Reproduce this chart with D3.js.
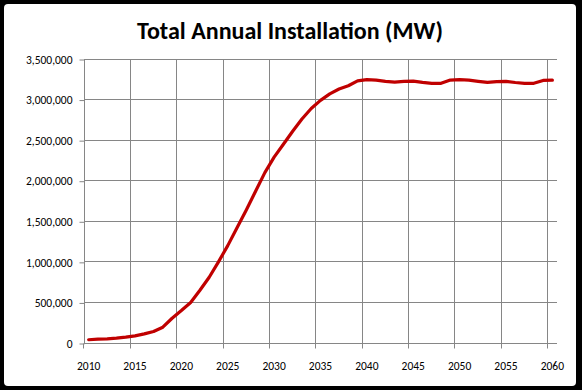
<!DOCTYPE html>
<html>
<head>
<meta charset="utf-8">
<script src="https://cdn.jsdelivr.net/npm/d3@7"></script>
<style>
  html, body { margin: 0; padding: 0; background: #fff; }
  svg { display: block; }
  text { font-family: Carlito, Lato, "Noto Sans", sans-serif; fill: #000; }
</style>
</head>
<body>
<svg id="chart" width="582" height="390"></svg>
<script>
const title = "Total Annual Installation (MW)";
const years = [2010,2011,2012,2013,2014,2015,2016,2017,2018,2019,
               2020,2021,2022,2023,2024,2025,2026,2027,2028,2029,
               2030,2031,2032,2033,2034,2035,2036,2037,2038,2039,
               2040,2041,2042,2043,2044,2045,2046,2047,2048,2049,
               2050,2051,2052,2053,2054,2055,2056,2057,2058,2059,2060];
const installation = [40000,48000,52000,60000,72000,88000,112000,142000,195000,305000,
                      400000,500000,650000,810000,1000000,1200000,1420000,1640000,1870000,2100000,
                      2290000,2450000,2610000,2760000,2890000,2990000,3070000,3130000,3170000,3230000,
                      3245000,3240000,3225000,3215000,3225000,3228000,3212000,3200000,3200000,3240000,
                      3245000,3240000,3225000,3212000,3222000,3225000,3210000,3200000,3200000,3236000,3240000];
const xTickYears = [2010,2015,2020,2025,2030,2035,2040,2045,2050,2055,2060];
const yTicks = [0,500000,1000000,1500000,2000000,2500000,3000000,3500000];

const svg = d3.select("#chart");
const W = 582, H = 390;
const plot = {left: 84, right: 557, top: 59, bottom: 343};
const gridColor = "#868686";

// frame
svg.append("rect").attr("x", 0).attr("y", 0).attr("width", W).attr("height", H).attr("fill", "#000");
svg.append("rect").attr("x", 4).attr("y", 4).attr("width", 572).attr("height", 382)
   .attr("rx", 4).attr("fill", "#fff");

const x = d3.scaleBand().domain(years).range([plot.left, plot.right]).padding(0);
const y = d3.scaleLinear().domain([0, 3500000]).range([plot.bottom, plot.top]);
const crisp = v => Math.floor(v) + 0.5;

// horizontal gridlines
svg.append("g").selectAll("line").data(yTicks.filter(d => d > 0)).join("line")
  .attr("x1", plot.left).attr("x2", plot.right)
  .attr("y1", d => crisp(y(d))).attr("y2", d => crisp(y(d)))
  .attr("stroke", gridColor).attr("stroke-width", 1);

// vertical gridlines
svg.append("g").selectAll("line").data(xTickYears.filter(d => d !== years[0])).join("line")
  .attr("x1", d => crisp(x(d))).attr("x2", d => crisp(x(d)))
  .attr("y1", plot.top).attr("y2", plot.bottom)
  .attr("stroke", gridColor).attr("stroke-width", 1);

// y axis
const yAxis = d3.axisLeft(y).tickValues(yTicks).tickFormat(d3.format(",")).tickSize(5).tickPadding(7);
const gy = svg.append("g").attr("transform", `translate(${crisp(plot.left)},0.5)`).call(yAxis);
gy.select(".domain").remove();
gy.append("line").attr("x1", 0).attr("x2", 0).attr("y1", plot.top - 0.5).attr("y2", plot.bottom)
  .attr("stroke", gridColor);
gy.selectAll(".tick line").attr("stroke", gridColor);
gy.selectAll(".tick text").attr("font-size", "11.5px").attr("fill", "#000")
  .style("font-family", "Carlito, Lato, 'Noto Sans', sans-serif");

// x axis
const gx = svg.append("g").attr("transform", `translate(0,${crisp(y(0))})`);
gx.append("line").attr("x1", plot.left).attr("x2", plot.right).attr("y1", 0).attr("y2", 0)
  .attr("stroke", gridColor);
gx.selectAll("line.tick").data(xTickYears).join("line").attr("class", "tick")
  .attr("x1", d => crisp(x(d))).attr("x2", d => crisp(x(d)))
  .attr("y1", 0).attr("y2", 5).attr("stroke", gridColor);
gx.selectAll("text").data(xTickYears).join("text")
  .attr("x", d => x(d) + x.bandwidth() / 2).attr("y", 26)
  .attr("text-anchor", "middle").attr("font-size", "11.5px")
  .text(d => d);

// line
const line = d3.line()
  .x((d, i) => x(years[i]) + x.bandwidth() / 2)
  .y(d => y(d))
  .curve(d3.curveLinear);
svg.append("path").datum(installation)
  .attr("d", line)
  .attr("fill", "none").attr("stroke", "#C00000").attr("stroke-width", 3.2)
  .attr("stroke-linejoin", "round").attr("stroke-linecap", "round");

// title
const t = svg.append("text").attr("x", 290).attr("y", 39).attr("text-anchor", "middle")
  .attr("font-size", "22px").attr("font-weight", "bold").text(title);
const tw = t.node().getComputedTextLength();
t.attr("font-size", (22 * 306 / tw).toFixed(2) + "px");
</script>
</body>
</html>
